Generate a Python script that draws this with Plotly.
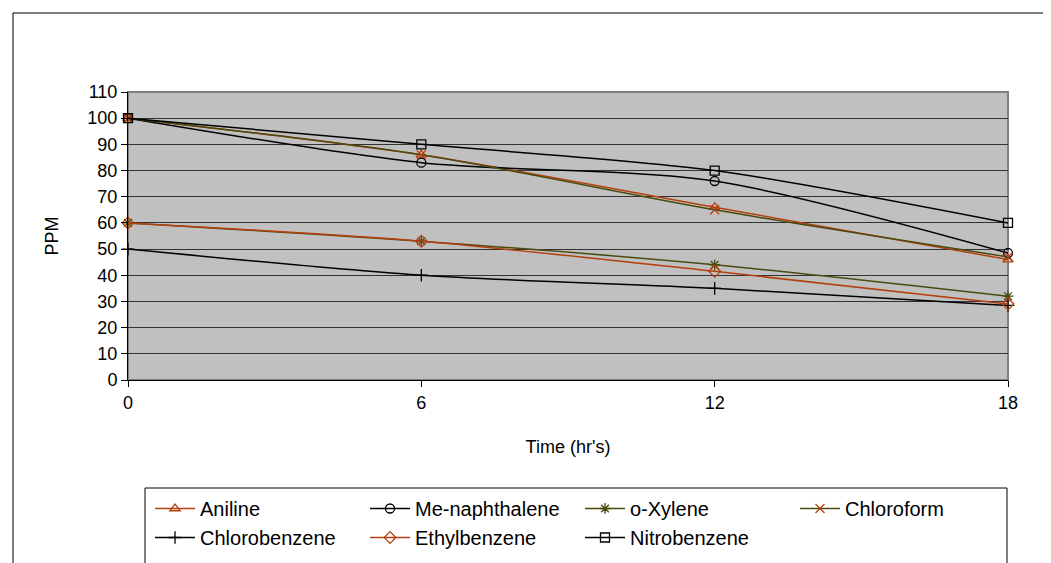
import plotly.graph_objects as go

time_hrs = [0, 6, 12, 18]
aniline = [100, 86, 66, 46]
me_naphthalene = [100, 83, 76, 48.5]
o_xylene = [60, 53, 44, 32]
chloroform = [100, 86, 65, 47]
chlorobenzene = [50, 40, 35, 28.5]
ethylbenzene = [60, 53, 41.5, 29]
nitrobenzene = [100, 90, 80, 60]

ORANGE = "#B5400F"
OLIVE = "#4A4A10"
BLACK = "#000000"

series = [
    ("Aniline", aniline, ORANGE, ORANGE, "triangle-up-open"),
    ("Me-naphthalene", me_naphthalene, BLACK, BLACK, "circle-open"),
    ("o-Xylene", o_xylene, OLIVE, OLIVE, "asterisk-open"),
    ("Chloroform", chloroform, OLIVE, ORANGE, "x-thin-open"),
    ("Chlorobenzene", chlorobenzene, BLACK, BLACK, "cross-thin-open"),
    ("Ethylbenzene", ethylbenzene, ORANGE, ORANGE, "diamond-open"),
    ("Nitrobenzene", nitrobenzene, BLACK, BLACK, "square-open"),
]

fig = go.Figure()
for name, vals, lc, mc, sym in series:
    fig.add_trace(go.Scatter(
        x=time_hrs, y=vals, name=name, mode="lines+markers",
        line=dict(color=lc, width=1.5, shape="spline", smoothing=0.8),
        marker=dict(symbol=sym, size=9, color=mc, line=dict(color=mc, width=1.3)),
        cliponaxis=False,
    ))

# page body has an 8px margin, so work in reference pixels minus 8
OFF = 8
W, H = 1051 - OFF, 563 - OFF
L, R, T, B = 128 - OFF, 1008 - OFF, 92 - OFF, 380 - OFF
pw, ph = R - L, B - T

def px(xp):
    return (xp - OFF - L) / pw

def py(yp):
    return (B - (yp - OFF)) / ph

shapes = [
    # outer chart border (left & top visible)
    dict(type="rect", xref="paper", yref="paper", x0=px(13), x1=px(1200), y0=py(700), y1=py(13),
         line=dict(color="black", width=1), fillcolor="rgba(0,0,0,0)", layer="below"),
    # plot area border (gray)
    dict(type="rect", xref="paper", yref="paper", x0=0, x1=1, y0=0, y1=1,
         line=dict(color="#808080", width=2), fillcolor="rgba(0,0,0,0)", layer="below"),
    # legend box
    dict(type="rect", xref="paper", yref="paper", x0=px(145), x1=px(1007), y0=py(600), y1=py(488),
         line=dict(color="black", width=1), fillcolor="rgba(0,0,0,0)"),
]

fig.update_layout(
    width=W, height=H,
    margin=dict(l=L, r=W - R, t=T, b=H - B),
    paper_bgcolor="white",
    plot_bgcolor="#C0C0C0",
    font=dict(family="Liberation Sans, Arial, sans-serif", size=18, color="black"),
    showlegend=True,
    legend=dict(
        orientation="h", xref="container", yref="container",
        x=(150 - OFF) / W, y=1 - (489 - OFF) / H, xanchor="left", yanchor="top",
        entrywidth=160, entrywidthmode="pixels",
        font=dict(size=20), bgcolor="rgba(0,0,0,0)",
        itemwidth=40,
    ),
    xaxis=dict(
        range=[0, 18], tickvals=time_hrs, ticktext=[str(t) for t in time_hrs],
        showgrid=False, zeroline=False, showline=True, linecolor="black", linewidth=1,
        ticks="outside", ticklen=6, tickcolor="black",
        title=dict(text="Time (hr's)", font=dict(size=18), standoff=28),
        tickfont=dict(size=18),
    ),
    yaxis=dict(
        range=[0, 110], dtick=10, tick0=0,
        showgrid=True, gridcolor="#333333", gridwidth=1,
        zeroline=False, showline=True, linecolor="black", linewidth=1,
        ticks="outside", ticklen=6, tickcolor="black",
        title=dict(text="PPM", font=dict(size=18), standoff=24),
        tickfont=dict(size=18),
    ),
    shapes=shapes,
)

fig.write_html("out.html")
